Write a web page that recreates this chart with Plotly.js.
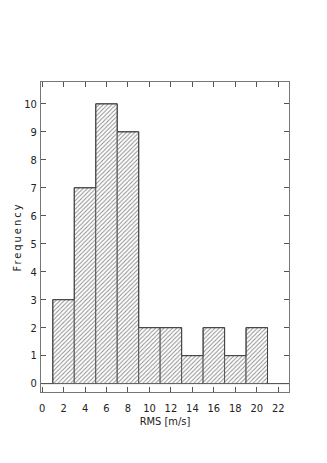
<!DOCTYPE html>
<html>
<head>
<meta charset="utf-8">
<script src="https://cdn.plot.ly/plotly-3.0.1.min.js"></script>
<style>
    html, body { margin: 0; padding: 0; background: white; }
    #chart { width: 327px; height: 463px; }
    .ytitle { letter-spacing: 2px; }
</style>
</head>
<body>
<div id="chart"></div>
<script>
// histogram bins (m/s) and counts
const binLeft = [1, 3, 5, 7, 9, 11, 13, 15, 17, 19];
const binWidth = 2;
const counts = [3, 7, 10, 9, 2, 2, 1, 2, 1, 2];

const xTicks = [0, 2, 4, 6, 8, 10, 12, 14, 16, 18, 20, 22];
const yTicks = [0, 1, 2, 3, 4, 5, 6, 7, 8, 9, 10];

const FONT = 'Liberation Sans Narrow, DejaVu Sans Condensed, sans-serif';

const binCenters = binLeft.map((x) => x + binWidth / 2);

// step outline incl. empty edges at zero
const stepX = [0].concat(binLeft, [binLeft[binLeft.length - 1] + binWidth, 23]);
const stepY = [0].concat(counts, [0, 0]);

const data = [
    {
        x: binCenters,
        y: counts,
        type: 'bar',
        width: binWidth,
        marker: {
            color: 'white',
            line: { color: '#555', width: 1 },
            pattern: {
                shape: '/',
                fgcolor: '#888',
                bgcolor: 'white',
                size: 3,
                solidity: 0.3,
            },
        },
        hoverinfo: 'skip',
    },
    {
        x: stepX,
        y: stepY,
        type: 'scatter',
        mode: 'lines',
        line: { color: '#444', width: 1, shape: 'hv' },
        hoverinfo: 'skip',
    },
];

const axisCommon = {
    showgrid: false,
    zeroline: false,
    showline: true,
    mirror: 'ticks',
    linecolor: '#777',
    linewidth: 1,
    ticks: 'inside',
    ticklen: 5,
    tickcolor: '#555',
    tickwidth: 1,
    tickfont: { family: FONT, size: 11, color: '#222' },
};

const layout = {
    width: 327,
    height: 463,
    margin: { l: 41, r: 38, t: 82, b: 71 },
    paper_bgcolor: 'white',
    plot_bgcolor: 'white',
    showlegend: false,
    bargap: 0,
    xaxis: Object.assign({}, axisCommon, {
        range: [-0.1, 23],
        tickvals: xTicks,
        ticktext: xTicks.map(String),
        ticklabelstandoff: 6,
        title: { text: 'RMS [m/s]', font: { family: FONT, size: 11, color: '#222' }, standoff: 1 },
    }),
    yaxis: Object.assign({}, axisCommon, {
        range: [-0.3, 10.78],
        tickvals: yTicks,
        ticktext: yTicks.map(String),
        ticklabelstandoff: 1,
        title: { text: 'Frequency', font: { family: FONT, size: 11, color: '#222' }, standoff: 0 },
    }),
};

Plotly.newPlot('chart', data, layout, { displayModeBar: false, staticPlot: true });
</script>
</body>
</html>
